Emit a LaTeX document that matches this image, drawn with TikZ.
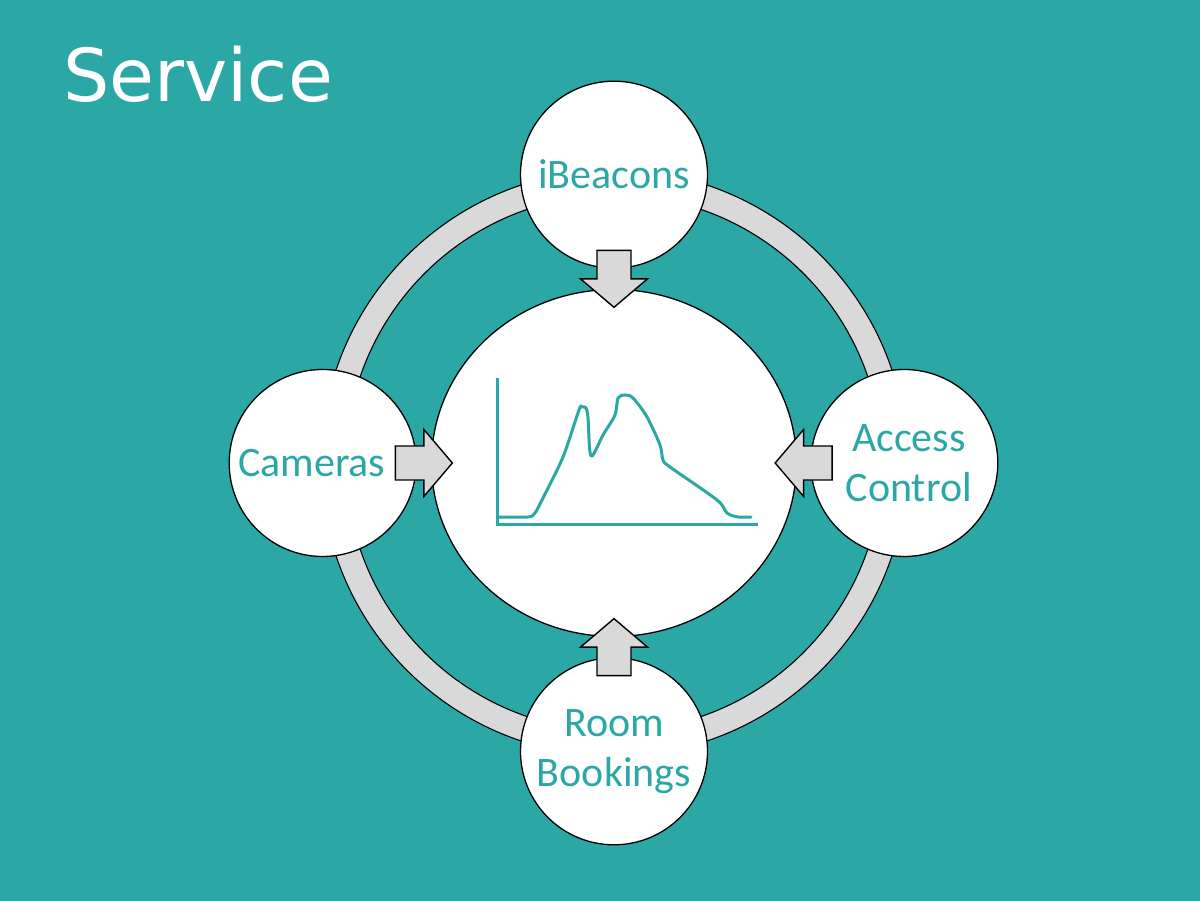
\documentclass[tikz,border=0pt]{standalone}
\usepackage{fontspec}
\setmainfont{Carlito}
\newfontfamily\titleFont{DejaVu Sans}
\usetikzlibrary{shapes,arrows}
\usetikzlibrary{positioning,calc}
\definecolor{tealBg}{RGB}{43,168,166}
\definecolor{ringGray}{RGB}{217,217,217}

\begin{document}
\begin{tikzpicture}[x=1pt,y=1pt,every text node part/.style={align=center}]
\tikzset{myFont/.style={font=\fontsize{42}{50}\selectfont,text=tealBg}}
\tikzset{myCircle/.style={draw,circle,fill=white,line width=1.3pt,minimum size=187pt,inner sep=0pt,myFont}}
\tikzset{myGray/.style={fill=ringGray,draw=black,line width=1.1pt}}
\tikzset{blockArrow/.pic={\path[myGray,line width=1.4pt,line join=miter] (-28.5,-17) -- (0,-17) -- (0,-33.5) -- (28.5,0) -- (0,33.5) -- (0,17) -- (-28.5,17) -- cycle;}}

\fill[tealBg] (0,0) rectangle (1200,901);
\node[anchor=base west,text=white,inner sep=0pt,font=\titleFont\fontsize{73}{80}\selectfont] (title) at (63,799) {Service};

\coordinate (mid) at (614,438);
\path[myGray,even odd rule] (mid) circle (293pt) (mid) circle (268pt);

\node[draw,ellipse,fill=white,line width=1.3pt,minimum width=365pt,minimum height=347pt] (hub) at (mid) {};
\node[myCircle,above=20pt of hub] (iBeacons) {iBeacons};
\node[myCircle,left=14pt of hub] (cameras) {Cameras\hspace*{22pt}};
\node[myCircle,right=13pt of hub] (access) {\hspace*{9pt}Access\\\hspace*{9pt}Control};
\node[myCircle,below=20pt of hub] (rooms) {Room\\Bookings};

\pic[rotate=-90] at ($(iBeacons.south)!.5!(hub.north)$) {blockArrow};
\pic at ($(cameras.east)!.5!(hub.west)$) {blockArrow};
\pic[rotate=180] at ($(access.west)!.5!(hub.east)$) {blockArrow};
\pic[rotate=90] at ($(rooms.north)!.5!(hub.south)$) {blockArrow};

\begin{scope}[shift={(hub.center)},line width=3pt,tealBg]
\draw (-117,85) -- (-117,-62) -- (144,-62);
\draw[line cap=round,line join=round] plot[smooth,tension=.5] coordinates {(-116,-54) (-86,-54) (-79,-50) (-71,-35) (-51,6) (-35,53) (-32,56) (-28,55) (-26,45) (-23,7) (-11,28) (1,48) (4,65) (11,68) (19,65) (33,46) (46,18) (49,3) (56,-4) (103,-37) (113,-50) (124,-54) (137,-54)};
\end{scope}

\end{tikzpicture}
\end{document}
